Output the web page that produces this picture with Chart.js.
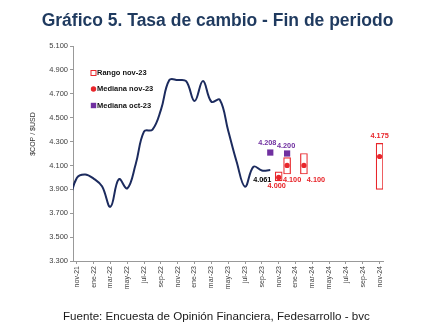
<!DOCTYPE html>
<html>
<head>
<meta charset="utf-8">
<script src="https://cdn.jsdelivr.net/npm/chart.js@4"></script>
<style>
  html, body { margin: 0; padding: 0; background: #fff; }
</style>
</head>
<body>
<canvas id="grafico" width="431" height="328"></canvas>
<script>
// Meses del eje (oct-21 queda fuera del área, solo sirve para la curva)
const meses = ['oct-21','nov-21','dic-21','ene-22','feb-22','mar-22','abr-22','may-22','jun-22','jul-22','ago-22','sep-22',
  'oct-22','nov-22','dic-22','ene-23','feb-23','mar-23','abr-23','may-23','jun-23','jul-23','ago-23','sep-23',
  'oct-23','nov-23','dic-23','ene-24','feb-24','mar-24','abr-24','may-24','jun-24','jul-24','ago-24','sep-24','oct-24','nov-24'];
const etiquetasEje = ['nov-21','ene-22','mar-22','may-22','jul-22','sep-22','nov-22','ene-23','mar-23','may-23',
  'jul-23','sep-23','nov-23','ene-24','mar-24','may-24','jul-24','sep-24','nov-24'];

// Tasa de cambio observada, fin de mes (oct-21 a oct-23)
const tasaCambio = [3770, 3995, 4025, 3990, 3925, 3754, 3985, 3908, 4110, 4385, 4400, 4565,
  4815, 4815, 4805, 4639, 4807, 4633, 4650, 4390, 4131, 3922, 4089, 4058, 4061];

// Encuesta nov-23: rango y mediana
const rangoMeses = ['nov-23','dic-23','feb-24','nov-24'];
const rangoMin = [3970, 4028, 4028, 3900];
const rangoMax = [4047, 4165, 4200, 4285];
const medianaNov = [4000, 4100, 4100, 4175];

// Encuesta oct-23: mediana
const medianaOctMeses = ['oct-23','dic-23'];
const medianaOct = [4208, 4200];

const ticksY = [3300, 3500, 3700, 3900, 4100, 4300, 4500, 4700, 4900, 5100];

const ROJO = '#e8262b';
const MORADO = '#7030a0';
const AZUL = '#1c2b5e';
const FUENTE = "'Liberation Sans', Arial, sans-serif";

const idx = m => meses.indexOf(m) - 1;
const fmt = v => (v / 1000).toFixed(3);

// Textos: título, fuente, leyenda y etiquetas de datos
const textos = {
  id: 'textos',
  afterDatasetsDraw(chart) {
    const ctx = chart.ctx;
    const x = chart.scales.x, y = chart.scales.y;
    ctx.save();

    // título
    ctx.fillStyle = '#1f3a5f';
    ctx.font = 'bold 17.5px ' + FUENTE;
    ctx.textAlign = 'center';
    ctx.textBaseline = 'middle';
    ctx.fillText('Gráfico 5. Tasa de cambio - Fin de periodo', 217.5, 21);

    // fuente
    ctx.fillStyle = '#1a1a1a';
    ctx.font = '11.6px ' + FUENTE;
    ctx.textAlign = 'left';
    ctx.fillText('Fuente: Encuesta de Opinión Financiera, Fedesarrollo - bvc', 63, 317);

    // título eje y
    ctx.save();
    ctx.translate(33, 134);
    ctx.rotate(-Math.PI / 2);
    ctx.textAlign = 'center';
    ctx.fillStyle = '#333';
    ctx.font = '7px ' + FUENTE;
    ctx.fillText('$COP / $USD', 0, 0);
    ctx.restore();

    // leyenda
    ctx.font = 'bold 7.5px ' + FUENTE;
    ctx.fillStyle = '#111';
    ctx.textAlign = 'left';
    ctx.fillText('Rango nov-23', 97, 73);
    ctx.fillText('Mediana nov-23', 97, 89);
    ctx.fillText('Mediana oct-23', 97, 105.5);
    ctx.strokeStyle = ROJO;
    ctx.lineWidth = 1;
    ctx.fillStyle = '#fff';
    ctx.fillRect(91, 70.5, 5, 5);
    ctx.strokeRect(91, 70.5, 5, 5);
    ctx.fillStyle = ROJO;
    ctx.beginPath();
    ctx.arc(93.5, 89, 2.7, 0, Math.PI * 2);
    ctx.fill();
    ctx.fillStyle = MORADO;
    ctx.fillRect(90.8, 102.8, 5.4, 5.4);

    // etiquetas de datos
    ctx.font = 'bold 7.3px ' + FUENTE;
    ctx.textAlign = 'center';
    const ult = tasaCambio.length - 1;
    ctx.fillStyle = '#000';
    ctx.fillText(fmt(tasaCambio[ult]), x.getPixelForValue(ult - 1) - 8, y.getPixelForValue(tasaCambio[ult]) + 10);

    ctx.fillStyle = ROJO;
    const dx = [-2, 5, 12, 0];
    medianaNov.forEach((v, i) => {
      const cx = x.getPixelForValue(idx(rangoMeses[i])) + dx[i];
      const cy = i === 3 ? y.getPixelForValue(rangoMax[i]) - 7 : y.getPixelForValue(rangoMin[i]) + 5.5;
      ctx.fillText(fmt(v), cx, cy);
    });

    ctx.fillStyle = MORADO;
    const dxo = [-3, -1], dyo = [-10, -8];
    medianaOct.forEach((v, i) => {
      ctx.fillText(fmt(v), x.getPixelForValue(idx(medianaOctMeses[i])) + dxo[i], y.getPixelForValue(v) + dyo[i]);
    });

    ctx.restore();
  }
};

new Chart(document.getElementById('grafico'), {
  type: 'bar',
  data: {
    datasets: [
      {
        type: 'line',
        label: 'Tasa de cambio',
        data: tasaCambio.map((v, i) => ({ x: i - 1, y: v })),
        borderColor: AZUL,
        borderWidth: 2,
        pointRadius: 0,
        tension: 0.4,
        order: 3
      },
      {
        type: 'bar',
        label: 'Rango nov-23',
        data: rangoMeses.map((m, i) => ({ x: idx(m), y: [rangoMin[i], rangoMax[i]] })),
        backgroundColor: '#fff',
        borderColor: ROJO,
        borderWidth: 1.2,
        borderSkipped: false,
        barThickness: 7,
        order: 2
      },
      {
        type: 'scatter',
        label: 'Mediana nov-23',
        data: rangoMeses.map((m, i) => ({ x: idx(m), y: medianaNov[i] })),
        backgroundColor: ROJO,
        borderWidth: 0,
        pointRadius: 2.6,
        order: 1
      },
      {
        type: 'scatter',
        label: 'Mediana oct-23',
        data: medianaOctMeses.map((m, i) => ({ x: idx(m), y: medianaOct[i] })),
        backgroundColor: MORADO,
        borderWidth: 0,
        pointStyle: 'rect',
        pointRadius: 4.4,
        order: 0
      }
    ]
  },
  options: {
    responsive: false,
    animation: false,
    layout: { padding: { top: 46, right: 48, left: 0, bottom: 0 } },
    plugins: {
      legend: { display: false },
      tooltip: { enabled: false }
    },
    scales: {
      x: {
        type: 'linear',
        offset: false,
        min: -0.45,
        max: 36.4,
        afterBuildTicks: s => { s.ticks = etiquetasEje.map(m => ({ value: idx(m) })); },
        afterFit: s => { s.height = 67; },
        ticks: {
          autoSkip: false,
          minRotation: 90,
          maxRotation: 90,
          padding: 2,
          color: '#404040',
          font: { family: FUENTE, size: 7 },
          callback: (v, i) => etiquetasEje[i]
        },
        grid: { offset: false, drawOnChartArea: false, tickLength: 3, color: '#999' },
        border: { color: '#999' }
      },
      y: {
        min: 3300,
        max: 5100,
        afterBuildTicks: s => { s.ticks = ticksY.map(v => ({ value: v })); },
        afterFit: s => { s.width = 73; },
        ticks: {
          padding: 2,
          color: '#404040',
          font: { family: FUENTE, size: 7.5 },
          callback: v => fmt(v)
        },
        grid: { drawOnChartArea: false, tickLength: 3, color: '#999' },
        border: { color: '#999' }
      }
    }
  },
  plugins: [textos]
});
</script>
</body>
</html>
